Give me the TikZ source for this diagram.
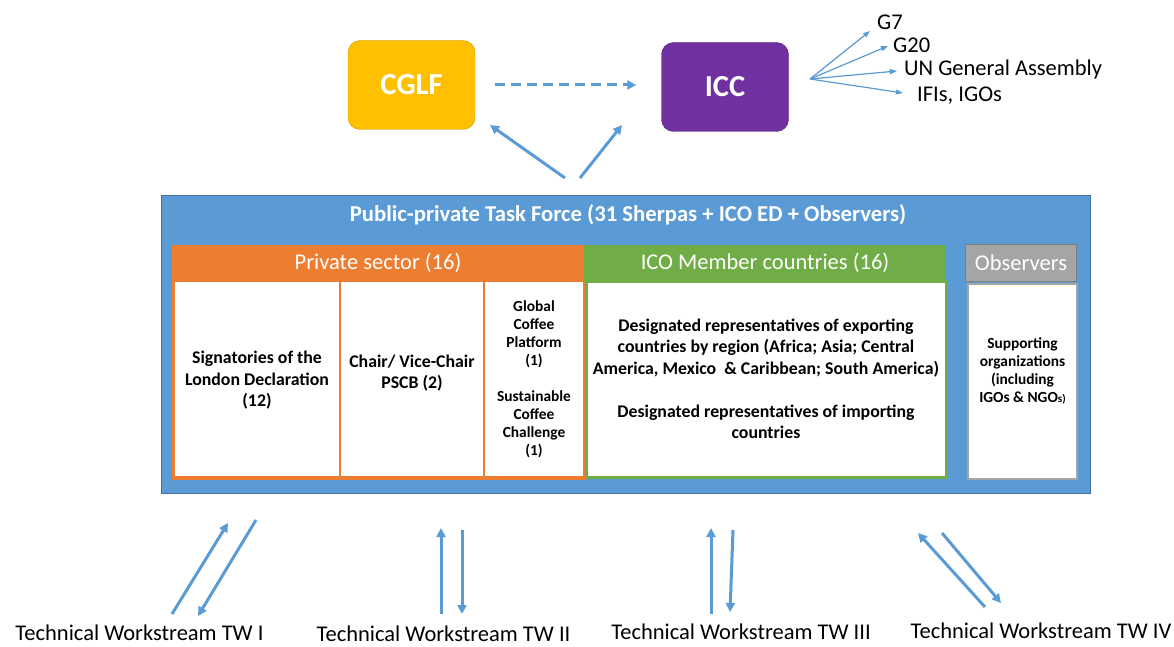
\documentclass[tikz,border=0pt]{standalone}
\usepackage{fontspec}
\setmainfont{Carlito}
\usetikzlibrary{arrows.meta}

\definecolor{cglfyellow}{HTML}{FFC000}
\definecolor{iccpurple}{HTML}{7030A0}
\definecolor{tfblue}{HTML}{5B9BD5}
\definecolor{tfedge}{HTML}{41719C}
\definecolor{psorange}{HTML}{ED7D31}
\definecolor{icogreen}{HTML}{70AD47}
\definecolor{obsgrey}{HTML}{A5A5A5}
\definecolor{obsedge}{HTML}{7F7F7F}

\begin{document}
\begin{tikzpicture}[x=1pt,y=-1pt,
                    every node/.style={inner sep=0pt},
                    topbox/.style={rounded corners=12pt,minimum width=127pt,minimum height=89pt,text=white,
                                   font=\bfseries\fontsize{30.5}{34}\selectfont},
                    head/.style={minimum height=37pt,text=white,font=\fontsize{22.5}{26}\selectfont},
                    cell/.style={fill=white,draw=psorange,line width=2pt,minimum height=196pt,align=center,
                                 font=\bfseries\fontsize{17.8}{21.5}\selectfont},
                    small/.style={font=\bfseries\fontsize{15.4}{18}\selectfont},
                    flow/.style={draw=tfblue,line width=3pt,-{Triangle[length=9pt,width=9pt]}},
                    fan/.style={draw=tfblue,line width=1.2pt,-{Triangle[length=7pt,width=5pt]}},
                    tw/.style={anchor=base,font=\fontsize{22.5}{26}\selectfont},
                    dest/.style={anchor=base west,font=\fontsize{22.5}{26}\selectfont}
]
\useasboundingbox (0,0) rectangle (1174,647);

% top: CGLF -> ICC
\node [topbox,fill=cglfyellow,draw=cglfyellow!80!black] at (411.5,85) (cglf) {CGLF};
\node [topbox,fill=iccpurple,draw=iccpurple!80!black] at (725,87) (icc) {ICC};
\path (cglf.east) ++(20pt,0) coordinate (d1) (icc.west) ++(-25pt,0) coordinate (d2);
\draw [flow,dash pattern=on 10pt off 6pt] (d1) -- (d2 |- d1);
%
\node [dest] at (877,30) (g7) {G7};
\node [dest] at (893,53) (g20) {G20};
\node [dest] at (904,76) (unga) {UN General Assembly};
\node [dest] at (917,102) (ifi) {IFIs, IGOs};
\coordinate (fan) at (810,79);
\draw [fan] (fan) -- ([xshift=-7pt,yshift=-1pt]g7.base west);
\draw [fan] (fan) -- ([xshift=-5pt,yshift=7pt]g20.base west);
\draw [fan] (fan) -- ([xshift=-7pt,yshift=5pt]unga.base west);
\draw [fan] (fan) -- ([xshift=-14pt,yshift=9pt]ifi.base west);

% task force
\node [fill=tfblue,draw=tfedge,line width=1pt,minimum width=929pt,minimum height=298pt] at (625.5,344) (tf) {};
\node [text=white,font=\bfseries\fontsize{22.7}{26}\selectfont] at (628,215) (tftitle)
      {Public-private Task Force (31 Sherpas + ICO ED + Observers)};
\coordinate (up1) at (565,178);
\coordinate (up2) at (580,178);
\coordinate (cglfin) at (490,125);
\coordinate (iccin) at (622,125);
\draw [flow] (up1) -- (cglfin);
\draw [flow] (up2) -- (iccin);

% private sector
\node [head,fill=psorange,minimum width=412pt] at (378,263) (pshead) {Private sector (16)};
\node [cell,minimum width=166pt] at (257,379) (sig) {\\[-6pt]Signatories of the\\London Declaration\\(12)};
\node [cell,minimum width=144pt] at (412,379) (chair) {Chair/ Vice-Chair\\PSCB (2)\\[-7pt]};
\node [cell,small,minimum width=100pt] at (534,379) (gcp)
      {Global\\Coffee\\Platform\\(1)\\[18pt]Sustainable\\Coffee\\Challenge\\(1)};
\draw [psorange,line width=3pt] (sig.north west) rectangle (gcp.south east);

% ICO members
\node [cell,draw=icogreen,line width=3pt,minimum width=360pt] at (766,379) (icobody)
      {Designated representatives of exporting\\countries by region (Africa; Asia; Central\\
       America, Mexico \ \& Caribbean; South America)\\[21.5pt]
       Designated representatives of importing\\countries};
\node [head,fill=icogreen,minimum width=362pt] at (765,263) (icohead) {ICO Member countries (16)};

% observers
\node [head,fill=obsgrey,draw=obsedge,line width=1.5pt,minimum width=111pt] at (1021,263) (obshead) {Observers};
\node [cell,small,draw=obsgrey,line width=1.5pt,minimum width=109pt,minimum height=195pt] at (1022.5,381.5) (obsbody)
      {Supporting\\organizations\\(including\\IGOs \& NGO{\fontsize{11}{18}\selectfont s)}\\[5pt]};

% technical workstreams
\node [tw] at (139.5,640) (tw1) {Technical Workstream TW I};
\node [tw] at (443.5,641) (tw2) {Technical Workstream TW II};
\node [tw] at (741,639) (tw3) {Technical Workstream TW III};
\node [tw] at (1041,638) (tw4) {Technical Workstream TW IV};
%
\coordinate (a1) at (172,614); \coordinate (b1) at (228,523);
\coordinate (c1) at (256,520); \coordinate (e1) at (198,616);
\coordinate (a2) at (441,614); \coordinate (b2) at (441,528);
\coordinate (c2) at (462,530); \coordinate (e2) at (462,614);
\coordinate (a3) at (711,614); \coordinate (b3) at (711,528);
\coordinate (c3) at (733,530); \coordinate (e3) at (730,612);
\coordinate (a4) at (985,607); \coordinate (b4) at (918,533);
\coordinate (c4) at (942,533); \coordinate (e4) at (1001,603);
\foreach \i in {1,...,4}{
  \draw [flow] (a\i) -- (b\i);
  \draw [flow] (c\i) -- (e\i);
}
\end{tikzpicture}
\end{document}
